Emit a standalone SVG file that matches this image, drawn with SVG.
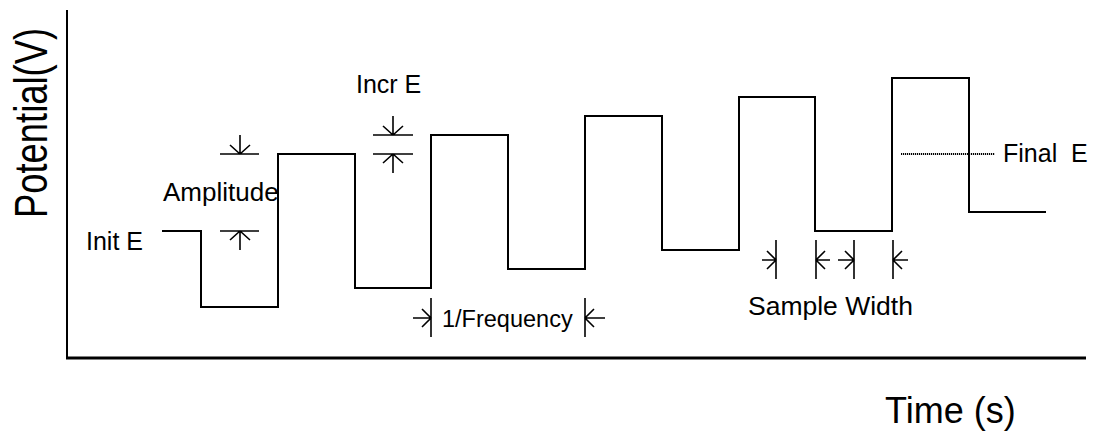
<svg xmlns="http://www.w3.org/2000/svg" width="1094" height="431" viewBox="0 0 1094 431">
<style>
text{font-family:"Liberation Sans",Arial,sans-serif;fill:#000}
.lbl{font-size:25px}
.wave{fill:none;stroke:#000;stroke-width:2}
.dim{fill:none;stroke:#000;stroke-width:1.6}
.axis{fill:none;stroke:#000}
</style>
<rect width="1094" height="431" fill="#fff"/>
<g id="axes">
<line class="axis" x1="67" y1="10" x2="67" y2="359" stroke-width="2"/>
<line class="axis" x1="66" y1="358" x2="1086" y2="358" stroke-width="3"/>
<text id="ylabel" x="0" y="0" font-size="36.4" transform="translate(47 218) rotate(-90) scale(1 1.26)">Potential(V)</text>
<text id="xlabel" x="885" y="423" font-size="36">Time (s)</text>
</g>
<g id="waveform">
<polyline class="wave" points="162,231 201,231 201,307 278,307 278,154 355,154 355,288 431,288 431,135 508,135 508,269 585,269 585,116 662,116 662,250 739,250 739,97 815,97 815,231 892,231 892,78 969,78 969,212 1046,212"/>
</g>
<g id="connectors">
<path class="dim" d="M220,154H259M240,135V154M230,145L240,154L250,145"/>
<path class="dim" d="M220,231H259M240,250V231M230,240L240,231L250,240"/>
<path class="dim" d="M373,135H413M393,116V135M383,126L393,135L403,126"/>
<path class="dim" d="M373,154H413M393,173V154M383,163L393,154L403,163"/>
<path class="dim" d="M431,298V337M413,318H431M422,309L431,318L422,327"/>
<path class="dim" d="M585,298V337M605,318H585M594,309L585,318L594,327"/>
<path class="dim" d="M776,240V279M762,260H776M767,251L776,260L767,269"/>
<path class="dim" d="M816,240V279M830,260H816M825,251L816,260L825,269"/>
<path class="dim" d="M854,240V279M838,260H854M845,251L854,260L845,269"/>
<path class="dim" d="M893,240V279M908,260H893M902,251L893,260L902,269"/>
<line x1="901" y1="154" x2="995" y2="154" stroke="#000" stroke-width="2" stroke-dasharray="1.2 0.8"/>
</g>
<g id="labels">
<text id="initE" class="lbl" x="86" y="250">Init E</text>
<text id="amplitude" x="163" y="201" font-size="26">Amplitude</text>
<text id="incrE" class="lbl" x="356" y="93">Incr E</text>
<text id="freq" x="442" y="327" font-size="23.5">1/Frequency</text>
<text id="sample" x="748" y="315" font-size="26.5">Sample Width</text>
<text id="finalE" class="lbl" x="1003" y="162" xml:space="preserve">Final  E</text>
</g>
</svg>
